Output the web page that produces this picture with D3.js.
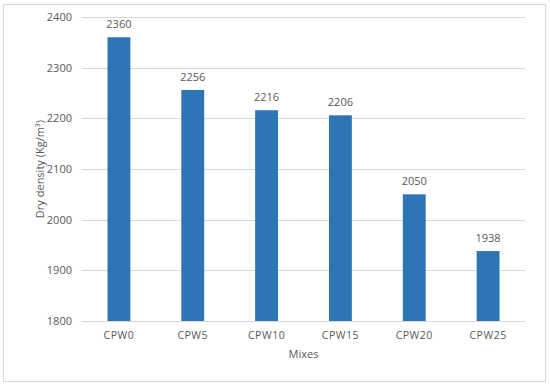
<!DOCTYPE html>
<html>
<head>
<meta charset="utf-8">
<script src="https://cdn.jsdelivr.net/npm/d3@7"></script>
<style>
  body { margin: 0; background: #fff; }
  text { font-family: "Open Sans", sans-serif; fill: #595959; }
</style>
</head>
<body>
<div class="chart"></div>
<script>
const mixes = ["CPW0", "CPW5", "CPW10", "CPW15", "CPW20", "CPW25"]
const dryDensity = [2360, 2256, 2216, 2206, 2050, 1938]
const yTicks = [1800, 1900, 2000, 2100, 2200, 2300, 2400]

let width = 550
let height = 387
let margin = {top: 17, right: 25, bottom: 66, left: 82}

let x = d3.scaleBand()
  .domain(mixes)
  .range([margin.left, width - margin.right])
  .paddingInner(0.69)
  .paddingOuter(0.345)

let y = d3.scaleLinear()
  .domain([1800, 2400])
  .range([height - margin.bottom, margin.top])

const svg = d3.select('.chart').append("svg")
  .attr("width", width)
  .attr("height", height)

// outer frame
svg.append("rect")
  .attr("x", 3.5).attr("y", 4.5)
  .attr("width", 542).attr("height", 377)
  .attr("fill", "#fff")
  .attr("stroke", "#d9d9d9")

// gridlines
svg.append("g")
  .attr("stroke", "#d9d9d9")
  .selectAll("line")
  .data(yTicks)
  .join("line")
    .attr("x1", margin.left)
    .attr("x2", width - margin.right)
    .attr("y1", d => Math.round(y(d)) + 0.5)
    .attr("y2", d => Math.round(y(d)) + 0.5)

// y tick labels
svg.append("g")
    .attr("text-anchor", "end")
    .attr("font-size", 11)
  .selectAll("text")
  .data(yTicks)
  .join("text")
    .attr("x", 72)
    .attr("y", d => y(d))
    .attr("dy", "0.35em")
    .text(d => d)

// bars
svg.append("g")
    .attr("fill", "#2e75b6")
  .selectAll("rect")
  .data(dryDensity)
  .join("rect")
    .attr("x", (d, i) => x(mixes[i]))
    .attr("y", d => y(d))
    .attr("width", x.bandwidth())
    .attr("height", d => y(1800) - y(d))

// value labels
svg.append("g")
    .attr("text-anchor", "middle")
    .attr("font-size", 11)
  .selectAll("text")
  .data(dryDensity)
  .join("text")
    .attr("x", (d, i) => x(mixes[i]) + x.bandwidth() / 2)
    .attr("y", d => y(d) - 9)
    .text(d => d)

// category labels
svg.append("g")
    .attr("text-anchor", "middle")
    .attr("font-size", 10.5)
  .selectAll("text")
  .data(mixes)
  .join("text")
    .attr("x", d => x(d) + x.bandwidth() / 2)
    .attr("y", 335)
    .attr("dy", "0.35em")
    .attr("letter-spacing", "0.5px")
    .text(d => d)

// axis titles
svg.append("text")
  .attr("x", (margin.left + width - margin.right) / 2)
  .attr("y", 354)
  .attr("dy", "0.35em")
  .attr("text-anchor", "middle")
  .attr("font-size", 11)
  .text("Mixes")

const yTitle = svg.append("text")
  .attr("transform", `translate(40,${(margin.top + height - margin.bottom) / 2}) rotate(-90)`)
  .attr("text-anchor", "middle")
  .attr("dy", "0.35em")
  .attr("font-size", 11)
yTitle.append("tspan").text("Dry density (Kg/m")
yTitle.append("tspan").attr("font-size", 7).attr("dy", "-0.5em").text("3")
yTitle.append("tspan").attr("dy", "0.3em").text(")")
</script>
</body>
</html>
